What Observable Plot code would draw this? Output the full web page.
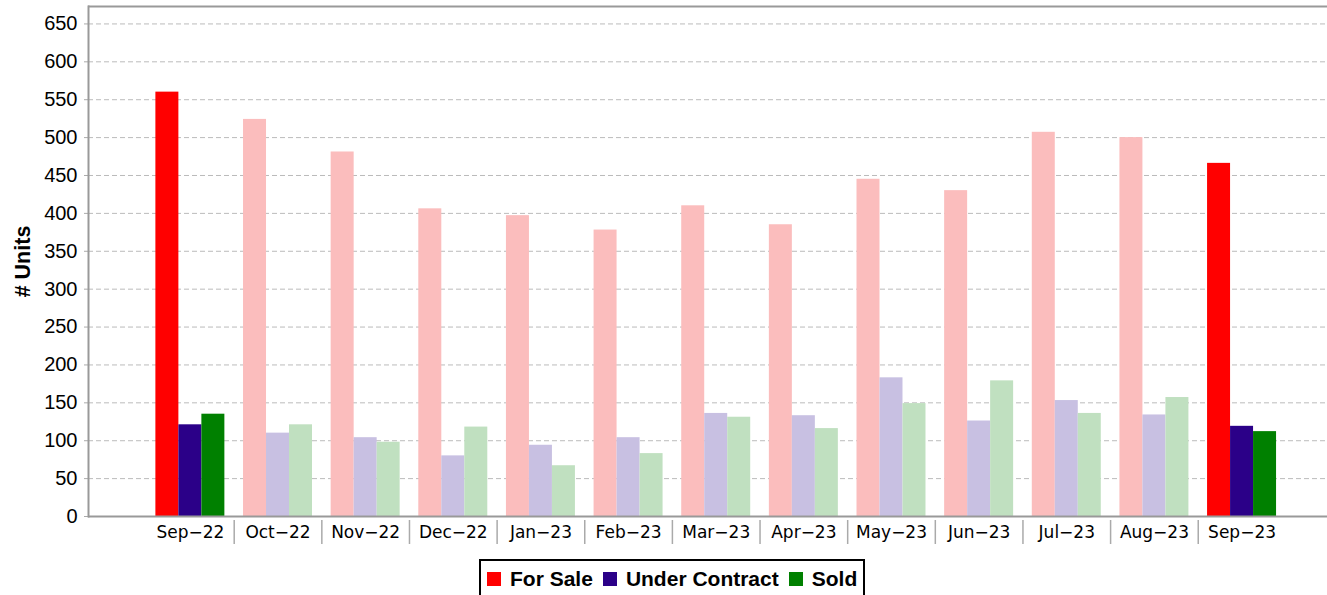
<!DOCTYPE html>
<html>
<head>
<meta charset="utf-8">
<script src="https://cdn.jsdelivr.net/npm/d3@7"></script>
<script src="https://cdn.jsdelivr.net/npm/@observablehq/plot@0.6"></script>
<style>
  html, body { margin: 0; padding: 0; background: #fff; overflow: hidden; }
  #chart { position: absolute; left: 0; top: 0; }
  #legend {
    position: absolute; left: 479px; top: 559px; height: 40px;
    border: 2px solid #000; box-sizing: border-box; padding: 0 6px 0 6px;
    display: flex; align-items: flex-start; padding-top: 8px;
    font-family: "Liberation Sans", Arial, sans-serif; font-weight: bold; font-size: 21px;
    white-space: nowrap;
  }
  #legend .item { display: flex; align-items: center; margin-right: 10px; line-height: 20px; }
  #legend .item:last-child { margin-right: 0; }
  #legend .sw { width: 14px; height: 14px; margin-right: 9px; display: inline-block; }
</style>
</head>
<body>
<div id="chart"></div>
<div id="legend"></div>
<script>
const months = ["Sep-22","Oct-22","Nov-22","Dec-22","Jan-23","Feb-23","Mar-23","Apr-23","May-23","Jun-23","Jul-23","Aug-23","Sep-23"];
const highlighted = ["Sep-22","Sep-23"];
const seriesNames = ["For Sale","Under Contract","Sold"];
const forSale       = [560, 524, 481, 406, 397, 378, 410, 385, 445, 430, 507, 500, 466];
const underContract = [121, 110, 104,  80,  94, 104, 136, 133, 183, 126, 153, 134, 119];
const sold          = [135, 121,  98, 118,  67,  83, 131, 116, 149, 179, 136, 157, 112];
const yTicks = [0,50,100,150,200,250,300,350,400,450,500,550,600,650];

const strongColors = ["#ff0000", "#2b0088", "#008000"];
const fadedColors  = ["#fbbdbd", "#c8c0e2", "#c0e0c0"];

const seriesValues = [forSale, underContract, sold];
const rows = seriesValues.map((vals, s) => months.map((m, i) => ({
  month: m, series: seriesNames[s], value: vals[i],
  color: highlighted.includes(m) ? strongColors[s] : fadedColors[s]
})));

const W = 1327, H = 552, mL = 88, mR = 0, mT = 6, mB = 36;
const pIn = 0.7376, pOut = 0.9375, align = 0.55;
const step = (W - mL - mR) / (months.length - pIn + 2 * pOut);
const bw = step * (1 - pIn);
const yMax = 673;

const bars = rows.map((data, s) => Plot.barY(data, {
  x: "month", y: "value", fill: "color", dx: (s - 1) * bw
}));

const chart = Plot.plot({
  width: W, height: H,
  marginLeft: mL, marginRight: mR, marginTop: mT, marginBottom: mB,
  style: { fontFamily: "'Liberation Sans', Arial, sans-serif", background: "#fff" },
  x: { type: "band", domain: months, paddingInner: pIn, paddingOuter: pOut, align: align, round: false, axis: null },
  y: { domain: [0, yMax], axis: null },
  color: { type: "identity" },
  marks: [
    Plot.ruleY(yTicks.filter(d => d > 0), { stroke: "#bbb", strokeWidth: 1, strokeDasharray: "5,3" }),
    ...bars,
    Plot.axisY({ ticks: yTicks, tickSize: 4, tickPadding: 7, fontSize: 20, label: null, stroke: "#aaa", fill: "#000" }),
    Plot.axisX({ tickSize: 0, tickPadding: 9, fontSize: 17, fontFamily: "'DejaVu Sans', sans-serif", label: null,
                 tickFormat: d => d.replace("-", "\u2212"), fill: "#000" }),
    Plot.axisX({ ticks: months.slice(0, -1), tickSize: 24, dx: step / 2, dy: 4, tickFormat: () => "", label: null,
                 stroke: "#aaa", strokeWidth: 1.5 }),
    Plot.ruleY([0], { stroke: "#999", strokeWidth: 2 }),
    Plot.ruleY([yMax], { stroke: "#999", strokeWidth: 2 }),
    Plot.frame({ anchor: "left", stroke: "#999", strokeWidth: 2 }),
    Plot.text(["# Units"], { frameAnchor: "left", rotate: -90, dx: -65, fontSize: 21.5, fontWeight: "bold",
                             textAnchor: "middle", lineAnchor: "middle", fill: "#000" })
  ]
});
document.getElementById("chart").appendChild(chart);

const legend = document.getElementById("legend");
seriesNames.forEach((name, i) => {
  const item = document.createElement("div");
  item.className = "item";
  const sw = document.createElement("span");
  sw.className = "sw";
  sw.style.background = strongColors[i];
  const label = document.createElement("span");
  label.textContent = name;
  item.appendChild(sw); item.appendChild(label);
  legend.appendChild(item);
});
</script>
</body>
</html>
